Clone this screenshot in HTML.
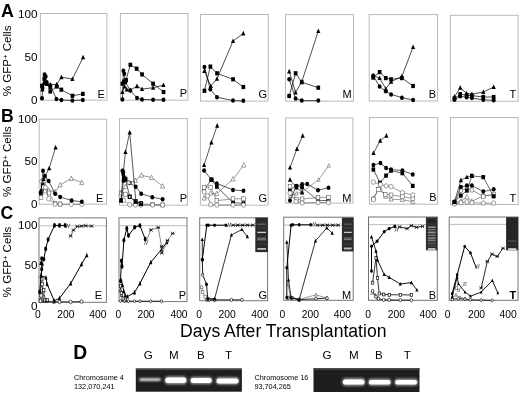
<!DOCTYPE html>
<html><head><meta charset="utf-8"><title>Figure</title>
<style>
html,body{margin:0;padding:0;background:#fff;}
body{width:520px;height:393px;overflow:hidden;font-family:"Liberation Sans",sans-serif;}
svg{display:block;will-change:transform;transform:translateZ(0);filter:blur(0.4px);}
text{font-family:"Liberation Sans",sans-serif;fill:#000;}
</style></head><body>
<svg width="520" height="393" viewBox="0 0 520 393">
<defs>
<filter id="bl" x="-20%" y="-80%" width="140%" height="260%"><feGaussianBlur stdDeviation="1.0 0.9"/></filter>
<filter id="bl2" x="-20%" y="-80%" width="140%" height="260%"><feGaussianBlur stdDeviation="0.6 0.5"/></filter>
</defs>
<rect width="520" height="393" fill="#fff"/>

<rect x="40.4" y="13.5" width="66.5" height="86.7" fill="none" stroke="#b9b9b9" stroke-width="1"/>
<rect x="120.4" y="13.5" width="67.5" height="86.7" fill="none" stroke="#b9b9b9" stroke-width="1"/>
<rect x="200.5" y="14.5" width="67.69999999999999" height="86.6" fill="none" stroke="#b9b9b9" stroke-width="1"/>
<rect x="285.5" y="14.6" width="68.0" height="86.60000000000001" fill="none" stroke="#b9b9b9" stroke-width="1"/>
<rect x="369.2" y="14.6" width="68.30000000000001" height="86.4" fill="none" stroke="#b9b9b9" stroke-width="1"/>
<rect x="450.4" y="15.3" width="67.70000000000005" height="85.95" fill="none" stroke="#b9b9b9" stroke-width="1"/>
<rect x="39.2" y="119.2" width="67.39999999999999" height="84.99999999999999" fill="none" stroke="#b9b9b9" stroke-width="1"/>
<rect x="119.5" y="118.6" width="67.9" height="86.6" fill="none" stroke="#b9b9b9" stroke-width="1"/>
<rect x="200.4" y="118.3" width="67.70000000000002" height="86.89999999999999" fill="none" stroke="#b9b9b9" stroke-width="1"/>
<rect x="285.6" y="118.0" width="67.29999999999995" height="85.1" fill="none" stroke="#b9b9b9" stroke-width="1"/>
<rect x="369.4" y="117.5" width="68.20000000000005" height="86.69999999999999" fill="none" stroke="#b9b9b9" stroke-width="1"/>
<rect x="450.5" y="117.5" width="67.60000000000002" height="87.0" fill="none" stroke="#b9b9b9" stroke-width="1"/>
<line x1="39" y1="225.8" x2="106.4" y2="225.8" stroke="#bdbdbd" stroke-width="1"/>
<rect x="39" y="217.9" width="67.4" height="84.4" fill="none" stroke="#787878" stroke-width="1.0"/>
<line x1="119" y1="225.7" x2="187" y2="225.7" stroke="#bdbdbd" stroke-width="1"/>
<rect x="119" y="217.8" width="68.0" height="83.8" fill="none" stroke="#787878" stroke-width="1.0"/>
<line x1="199.7" y1="225.3" x2="267.6" y2="225.3" stroke="#bdbdbd" stroke-width="1"/>
<rect x="199.7" y="217.8" width="67.9" height="82.9" fill="none" stroke="#787878" stroke-width="1.0"/>
<line x1="283.7" y1="225.1" x2="353.2" y2="225.1" stroke="#bdbdbd" stroke-width="1"/>
<rect x="283.7" y="217.2" width="69.5" height="83.1" fill="none" stroke="#747474" stroke-width="1.0"/>
<line x1="368.5" y1="224.6" x2="437.3" y2="224.6" stroke="#bdbdbd" stroke-width="1"/>
<rect x="368.5" y="217.0" width="68.8" height="83.3" fill="none" stroke="#707070" stroke-width="1.0"/>
<line x1="449.2" y1="224.4" x2="518.0" y2="224.4" stroke="#bdbdbd" stroke-width="1"/>
<rect x="449.2" y="217.0" width="68.8" height="83.3" fill="none" stroke="#747474" stroke-width="1.0"/>
<rect x="255.3" y="217.6" width="12.5" height="34.5" fill="#2b2b2b"/><rect x="257.3" y="223.60" width="8.7" height="1.0" fill="#777" filter="url(#bl2)"/><rect x="257.3" y="227.60" width="8.7" height="0.8" fill="#484848" filter="url(#bl2)"/><rect x="257.3" y="231.75" width="8.7" height="1.3" fill="#cfcfcf" filter="url(#bl2)"/><rect x="257.3" y="237.60" width="8.7" height="1.0" fill="#8a8a8a" filter="url(#bl2)"/><rect x="257.3" y="239.30" width="8.7" height="1.0" fill="#8a8a8a" filter="url(#bl2)"/><rect x="257.3" y="243.60" width="8.7" height="0.8" fill="#484848" filter="url(#bl2)"/><rect x="257.3" y="248.00" width="8.7" height="1.8" fill="#bdbdbd" filter="url(#bl2)"/><rect x="341.9" y="217.6" width="11.600000000000023" height="33.80000000000001" fill="#2b2b2b"/><rect x="343.9" y="223.60" width="7.8" height="1.0" fill="#6a6a6a" filter="url(#bl2)"/><rect x="343.9" y="227.50" width="7.8" height="0.8" fill="#505050" filter="url(#bl2)"/><rect x="343.9" y="231.75" width="7.8" height="1.3" fill="#c8c8c8" filter="url(#bl2)"/><rect x="343.9" y="237.60" width="7.8" height="1.0" fill="#858585" filter="url(#bl2)"/><rect x="343.9" y="239.10" width="7.8" height="1.0" fill="#808080" filter="url(#bl2)"/><rect x="343.9" y="243.60" width="7.8" height="0.8" fill="#484848" filter="url(#bl2)"/><rect x="343.9" y="247.55" width="7.8" height="1.9" fill="#b8b8b8" filter="url(#bl2)"/><rect x="425.9" y="217.3" width="11.400000000000034" height="33.0" fill="#2e2e2e"/><rect x="427.9" y="219.90" width="7.6" height="2.2" fill="#202020" filter="url(#bl2)"/><rect x="427.9" y="226.35" width="7.6" height="1.7" fill="#8c8c8c" filter="url(#bl2)"/><rect x="427.9" y="229.00" width="7.6" height="1.4" fill="#727272" filter="url(#bl2)"/><rect x="427.9" y="231.60" width="7.6" height="1.6" fill="#9a9a9a" filter="url(#bl2)"/><rect x="427.9" y="234.60" width="7.6" height="1.4" fill="#7c7c7c" filter="url(#bl2)"/><rect x="427.9" y="237.15" width="7.6" height="1.7" fill="#848484" filter="url(#bl2)"/><rect x="427.9" y="239.55" width="7.6" height="1.7" fill="#7a7a7a" filter="url(#bl2)"/><rect x="427.9" y="242.80" width="7.6" height="1.2" fill="#5a5a5a" filter="url(#bl2)"/><rect x="427.9" y="245.30" width="7.6" height="1.0" fill="#4c4c4c" filter="url(#bl2)"/><rect x="427.9" y="248.15" width="7.6" height="1.7" fill="#d4d4d4" filter="url(#bl2)"/><rect x="506.1" y="217.2" width="12.100000000000023" height="33.10000000000002" fill="#262626"/><rect x="508.1" y="240.50" width="8.3" height="1.0" fill="#5c5c5c" filter="url(#bl2)"/><rect x="508.1" y="244.60" width="8.3" height="0.8" fill="#3a3a3a" filter="url(#bl2)"/><rect x="508.1" y="248.30" width="8.3" height="1.6" fill="#f0f0f0" filter="url(#bl2)"/>
<g id="pAE">
<path d="M42.4 89.4L44.6 82.5L46.7 84.0L50.3 84.6L56.7 84.4L61.4 77.2L72.4 79.1L83.1 57.3" fill="none" stroke="#000" stroke-width="0.7" /><g fill="#000"><path d="M40.3 91.4L44.5 91.4L42.4 86.8Z"/><path d="M42.5 84.5L46.7 84.5L44.6 79.9Z"/><path d="M44.6 86.0L48.8 86.0L46.7 81.4Z"/><path d="M48.2 86.6L52.4 86.6L50.3 82.0Z"/><path d="M54.6 86.4L58.8 86.4L56.7 81.8Z"/><path d="M59.3 79.2L63.5 79.2L61.4 74.6Z"/><path d="M70.3 81.1L74.5 81.1L72.4 76.5Z"/><path d="M81.0 59.3L85.2 59.3L83.1 54.7Z"/></g>
<path d="M42.0 85.8L44.3 78.7L46.0 83.0L50.3 87.2L50.3 91.5L56.7 86.5L61.4 89.7L72.4 95.8L82.8 93.9" fill="none" stroke="#000" stroke-width="0.7" /><g fill="#000"><rect x="40.1" y="83.7" width="3.7" height="4.2"/><rect x="42.4" y="76.6" width="3.7" height="4.2"/><rect x="44.1" y="80.9" width="3.7" height="4.2"/><rect x="48.4" y="85.1" width="3.7" height="4.2"/><rect x="48.4" y="89.4" width="3.7" height="4.2"/><rect x="54.9" y="84.4" width="3.7" height="4.2"/><rect x="59.5" y="87.6" width="3.7" height="4.2"/><rect x="70.6" y="93.7" width="3.7" height="4.2"/><rect x="81.0" y="91.8" width="3.7" height="4.2"/></g>
<path d="M42.0 98.2L42.6 88.0L44.6 74.4L45.7 76.5L46.7 82.2L50.3 85.4L56.4 98.9L61.4 100.0L72.4 100.5L82.8 100.0" fill="none" stroke="#000" stroke-width="0.7" /><g fill="#000"><ellipse cx="42.0" cy="98.2" rx="1.95" ry="2.25"/><ellipse cx="42.6" cy="88.0" rx="1.95" ry="2.25"/><ellipse cx="44.6" cy="74.4" rx="1.95" ry="2.25"/><ellipse cx="45.7" cy="76.5" rx="1.95" ry="2.25"/><ellipse cx="46.7" cy="82.2" rx="1.95" ry="2.25"/><ellipse cx="50.3" cy="85.4" rx="1.95" ry="2.25"/><ellipse cx="56.4" cy="98.9" rx="1.95" ry="2.25"/><ellipse cx="61.4" cy="100.0" rx="1.95" ry="2.25"/><ellipse cx="72.4" cy="100.5" rx="1.95" ry="2.25"/><ellipse cx="82.8" cy="100.0" rx="1.95" ry="2.25"/></g>
</g>
<g id="pAP">
<path d="M122.4 92.0L124.6 86.5L126.7 89.4L130.3 90.1L137.0 86.2L142.0 89.1L153.1 87.7L163.5 85.1" fill="none" stroke="#000" stroke-width="0.7" /><g fill="#000"><path d="M120.3 94.0L124.5 94.0L122.4 89.4Z"/><path d="M122.5 88.5L126.7 88.5L124.6 83.9Z"/><path d="M124.6 91.4L128.8 91.4L126.7 86.8Z"/><path d="M128.2 92.1L132.4 92.1L130.3 87.5Z"/><path d="M134.9 88.2L139.1 88.2L137.0 83.6Z"/><path d="M139.9 91.1L144.1 91.1L142.0 86.5Z"/><path d="M151.0 89.7L155.2 89.7L153.1 85.1Z"/><path d="M161.4 87.1L165.6 87.1L163.5 82.5Z"/></g>
<path d="M122.4 83.7L123.8 81.5L126.0 80.1L130.3 64.8L136.7 68.7L142.0 74.4L153.1 83.7L163.5 92.0" fill="none" stroke="#000" stroke-width="0.7" /><g fill="#000"><rect x="120.6" y="81.6" width="3.7" height="4.2"/><rect x="122.0" y="79.4" width="3.7" height="4.2"/><rect x="124.2" y="78.0" width="3.7" height="4.2"/><rect x="128.5" y="62.7" width="3.7" height="4.2"/><rect x="134.8" y="66.6" width="3.7" height="4.2"/><rect x="140.2" y="72.3" width="3.7" height="4.2"/><rect x="151.2" y="81.6" width="3.7" height="4.2"/><rect x="161.7" y="89.9" width="3.7" height="4.2"/></g>
<path d="M122.4 99.4L123.4 70.8L124.3 73.7L125.3 82.2L130.3 90.5L137.0 98.0L142.0 99.4L153.1 99.8L163.5 99.8" fill="none" stroke="#000" stroke-width="0.7" /><g fill="#000"><ellipse cx="122.4" cy="99.4" rx="1.95" ry="2.25"/><ellipse cx="123.4" cy="70.8" rx="1.95" ry="2.25"/><ellipse cx="124.3" cy="73.7" rx="1.95" ry="2.25"/><ellipse cx="125.3" cy="82.2" rx="1.95" ry="2.25"/><ellipse cx="130.3" cy="90.5" rx="1.95" ry="2.25"/><ellipse cx="137.0" cy="98.0" rx="1.95" ry="2.25"/><ellipse cx="142.0" cy="99.4" rx="1.95" ry="2.25"/><ellipse cx="153.1" cy="99.8" rx="1.95" ry="2.25"/><ellipse cx="163.5" cy="99.8" rx="1.95" ry="2.25"/></g>
</g>
<g id="pAG">
<path d="M204.4 70.9L210.8 86.0L217.0 78.8L233.0 41.1L243.3 33.4" fill="none" stroke="#000" stroke-width="0.7" /><g fill="#000"><path d="M202.3 72.9L206.5 72.9L204.4 68.3Z"/><path d="M208.7 88.0L212.9 88.0L210.8 83.4Z"/><path d="M214.9 80.8L219.1 80.8L217.0 76.2Z"/><path d="M230.9 43.1L235.1 43.1L233.0 38.5Z"/><path d="M241.2 35.4L245.4 35.4L243.3 30.8Z"/></g>
<path d="M204.4 90.8L210.3 66.6L217.0 73.3L233.0 79.3L243.3 87.0" fill="none" stroke="#000" stroke-width="0.7" /><g fill="#000"><rect x="202.6" y="88.7" width="3.7" height="4.2"/><rect x="208.5" y="64.5" width="3.7" height="4.2"/><rect x="215.2" y="71.2" width="3.7" height="4.2"/><rect x="231.2" y="77.2" width="3.7" height="4.2"/><rect x="241.5" y="84.9" width="3.7" height="4.2"/></g>
<path d="M204.4 66.9L210.3 89.3L217.0 97.2L233.0 100.6L243.3 100.8" fill="none" stroke="#000" stroke-width="0.7" /><g fill="#000"><ellipse cx="204.4" cy="66.9" rx="1.95" ry="2.25"/><ellipse cx="210.3" cy="89.3" rx="1.95" ry="2.25"/><ellipse cx="217.0" cy="97.2" rx="1.95" ry="2.25"/><ellipse cx="233.0" cy="100.6" rx="1.95" ry="2.25"/><ellipse cx="243.3" cy="100.8" rx="1.95" ry="2.25"/></g>
</g>
<g id="pAM">
<path d="M289.2 71.4L295.6 92.5L301.8 81.7L318.3 31.0" fill="none" stroke="#000" stroke-width="0.7" /><g fill="#000"><path d="M287.1 73.4L291.3 73.4L289.2 68.8Z"/><path d="M293.5 94.5L297.7 94.5L295.6 89.9Z"/><path d="M299.7 83.7L303.9 83.7L301.8 79.1Z"/><path d="M316.2 33.0L320.4 33.0L318.3 28.4Z"/></g>
<path d="M289.2 96.0L295.6 73.3L301.8 82.2L318.3 87.7" fill="none" stroke="#000" stroke-width="0.7" /><g fill="#000"><rect x="287.3" y="93.9" width="3.7" height="4.2"/><rect x="293.8" y="71.2" width="3.7" height="4.2"/><rect x="299.9" y="80.1" width="3.7" height="4.2"/><rect x="316.4" y="85.6" width="3.7" height="4.2"/></g>
<path d="M289.2 79.3L295.6 98.4L301.8 100.6L318.3 100.6" fill="none" stroke="#000" stroke-width="0.7" /><g fill="#000"><ellipse cx="289.2" cy="79.3" rx="1.95" ry="2.25"/><ellipse cx="295.6" cy="98.4" rx="1.95" ry="2.25"/><ellipse cx="301.8" cy="100.6" rx="1.95" ry="2.25"/><ellipse cx="318.3" cy="100.6" rx="1.95" ry="2.25"/></g>
</g>
<g id="pAB">
<path d="M373.2 75.7L379.6 78.1L385.8 88.9L391.1 81.7L401.9 76.4L413.1 47.0" fill="none" stroke="#000" stroke-width="0.7" /><g fill="#000"><path d="M371.1 77.7L375.3 77.7L373.2 73.1Z"/><path d="M377.5 80.1L381.7 80.1L379.6 75.5Z"/><path d="M383.7 90.9L387.9 90.9L385.8 86.3Z"/><path d="M389.0 83.7L393.2 83.7L391.1 79.1Z"/><path d="M399.8 78.4L404.0 78.4L401.9 73.8Z"/><path d="M411.0 49.0L415.2 49.0L413.1 44.4Z"/></g>
<path d="M373.2 77.6L379.6 72.1L385.8 78.1L391.1 79.3L401.9 78.1L413.1 86.0" fill="none" stroke="#000" stroke-width="0.7" /><g fill="#000"><rect x="371.3" y="75.5" width="3.7" height="4.2"/><rect x="377.8" y="70.0" width="3.7" height="4.2"/><rect x="383.9" y="76.0" width="3.7" height="4.2"/><rect x="389.2" y="77.2" width="3.7" height="4.2"/><rect x="400.0" y="76.0" width="3.7" height="4.2"/><rect x="411.2" y="83.9" width="3.7" height="4.2"/></g>
<path d="M373.2 75.7L379.6 86.5L385.8 91.3L391.1 94.4L401.9 97.7L413.1 99.9" fill="none" stroke="#000" stroke-width="0.7" /><g fill="#000"><ellipse cx="373.2" cy="75.7" rx="1.95" ry="2.25"/><ellipse cx="379.6" cy="86.5" rx="1.95" ry="2.25"/><ellipse cx="385.8" cy="91.3" rx="1.95" ry="2.25"/><ellipse cx="391.1" cy="94.4" rx="1.95" ry="2.25"/><ellipse cx="401.9" cy="97.7" rx="1.95" ry="2.25"/><ellipse cx="413.1" cy="99.9" rx="1.95" ry="2.25"/></g>
</g>
<g id="pAT">
<path d="M454.5 96.7L460.2 87.7L466.6 93.4L471.9 94.2L483.3 92.0L493.7 87.0" fill="none" stroke="#000" stroke-width="0.7" /><g fill="#000"><path d="M452.4 98.7L456.6 98.7L454.5 94.1Z"/><path d="M458.1 89.7L462.3 89.7L460.2 85.1Z"/><path d="M464.5 95.4L468.7 95.4L466.6 90.8Z"/><path d="M469.8 96.2L474.0 96.2L471.9 91.6Z"/><path d="M481.2 94.0L485.4 94.0L483.3 89.4Z"/><path d="M491.6 89.0L495.8 89.0L493.7 84.4Z"/></g>
<path d="M454.5 98.4L460.2 94.2L466.6 95.3L471.9 95.6L483.3 97.0L493.7 97.0" fill="none" stroke="#000" stroke-width="0.7" /><g fill="#000"><rect x="452.6" y="96.3" width="3.7" height="4.2"/><rect x="458.3" y="92.1" width="3.7" height="4.2"/><rect x="464.8" y="93.2" width="3.7" height="4.2"/><rect x="470.0" y="93.5" width="3.7" height="4.2"/><rect x="481.4" y="94.9" width="3.7" height="4.2"/><rect x="491.8" y="94.9" width="3.7" height="4.2"/></g>
<path d="M454.5 99.8L460.2 96.3L466.6 97.3L471.9 98.1L483.3 99.8L493.7 100.3" fill="none" stroke="#000" stroke-width="0.7" /><g fill="#000"><ellipse cx="454.5" cy="99.8" rx="1.95" ry="2.25"/><ellipse cx="460.2" cy="96.3" rx="1.95" ry="2.25"/><ellipse cx="466.6" cy="97.3" rx="1.95" ry="2.25"/><ellipse cx="471.9" cy="98.1" rx="1.95" ry="2.25"/><ellipse cx="483.3" cy="99.8" rx="1.95" ry="2.25"/><ellipse cx="493.7" cy="100.3" rx="1.95" ry="2.25"/></g>
</g>
<g id="pBE">
<path d="M40.9 193.5L42.6 184.5L44.3 189.0" fill="none" stroke="#000" stroke-width="0.6" /><g fill="#000"><rect x="39.0" y="191.4" width="3.7" height="4.2"/><rect x="40.8" y="182.4" width="3.7" height="4.2"/><rect x="42.4" y="186.9" width="3.7" height="4.2"/></g>
<path d="M41.3 192.2L44.6 186.5L48.6 190.3L55.1 191.8L60.2 185.0L71.3 178.5L81.8 182.7" fill="none" stroke="#555" stroke-width="0.6" /><g fill="#fff" stroke="#505050" stroke-width="0.55"><path d="M39.2 194.1L43.4 194.1L41.3 189.7Z"/><path d="M42.5 188.4L46.7 188.4L44.6 184.0Z"/><path d="M46.5 192.2L50.7 192.2L48.6 187.8Z"/><path d="M53.0 193.7L57.2 193.7L55.1 189.3Z"/><path d="M58.1 186.9L62.3 186.9L60.2 182.5Z"/><path d="M69.2 180.4L73.4 180.4L71.3 176.0Z"/><path d="M79.7 184.6L83.9 184.6L81.8 180.2Z"/></g>
<path d="M41.0 197.5L43.5 187.0L45.6 191.0L49.0 193.0L55.1 203.5L60.2 204.0" fill="none" stroke="#555" stroke-width="0.6" /><g fill="#fff" stroke="#505050" stroke-width="0.55"><rect x="39.2" y="195.5" width="3.6" height="4.0"/><rect x="41.7" y="185.0" width="3.6" height="4.0"/><rect x="43.8" y="189.0" width="3.6" height="4.0"/><rect x="47.2" y="191.0" width="3.6" height="4.0"/><rect x="53.3" y="201.5" width="3.6" height="4.0"/><rect x="58.4" y="202.0" width="3.6" height="4.0"/></g>
<path d="M41.7 181.4L44.9 180.4L45.5 187.4L48.7 198.8L55.1 204.2L60.2 204.3L71.3 204.3L81.8 204.3" fill="none" stroke="#555" stroke-width="0.6" /><g fill="#fff" stroke="#505050" stroke-width="0.55"><ellipse cx="41.7" cy="181.4" rx="2.07" ry="2.25"/><ellipse cx="44.9" cy="180.4" rx="2.07" ry="2.25"/><ellipse cx="45.5" cy="187.4" rx="2.07" ry="2.25"/><ellipse cx="48.7" cy="198.8" rx="2.07" ry="2.25"/><ellipse cx="55.1" cy="204.2" rx="2.07" ry="2.25"/><ellipse cx="60.2" cy="204.3" rx="2.07" ry="2.25"/><ellipse cx="71.3" cy="204.3" rx="2.07" ry="2.25"/><ellipse cx="81.8" cy="204.3" rx="2.07" ry="2.25"/></g>
<path d="M40.8 192.4L43.0 170.8L44.9 175.9L48.7 181.0L55.1 193.7L60.2 196.9L71.6 200.5L81.8 201.8" fill="none" stroke="#000" stroke-width="0.65" /><g fill="#000"><ellipse cx="40.8" cy="192.4" rx="1.95" ry="2.25"/><ellipse cx="43.0" cy="170.8" rx="1.95" ry="2.25"/><ellipse cx="44.9" cy="175.9" rx="1.95" ry="2.25"/><ellipse cx="48.7" cy="181.0" rx="1.95" ry="2.25"/><ellipse cx="55.1" cy="193.7" rx="1.95" ry="2.25"/><ellipse cx="60.2" cy="196.9" rx="1.95" ry="2.25"/><ellipse cx="71.6" cy="200.5" rx="1.95" ry="2.25"/><ellipse cx="81.8" cy="201.8" rx="1.95" ry="2.25"/></g>
<path d="M40.7 191.0L43.6 179.0L49.2 168.3L55.6 147.4" fill="none" stroke="#000" stroke-width="0.65" /><g fill="#000"><path d="M38.6 193.0L42.8 193.0L40.7 188.4Z"/><path d="M41.5 181.0L45.7 181.0L43.6 176.4Z"/><path d="M47.1 170.3L51.3 170.3L49.2 165.7Z"/><path d="M53.5 149.4L57.7 149.4L55.6 144.8Z"/></g>
</g>
<g id="pBP">
<path d="M121.0 193.0L125.5 194.2L129.7 196.7L135.4 201.7L140.9 203.7L152.6 204.7L162.6 204.9" fill="none" stroke="#555" stroke-width="0.6" /><g fill="#fff" stroke="#505050" stroke-width="0.55"><rect x="119.2" y="191.0" width="3.6" height="4.0"/><rect x="123.7" y="192.2" width="3.6" height="4.0"/><rect x="127.9" y="194.7" width="3.6" height="4.0"/><rect x="133.6" y="199.7" width="3.6" height="4.0"/><rect x="139.1" y="201.7" width="3.6" height="4.0"/><rect x="150.8" y="202.7" width="3.6" height="4.0"/><rect x="160.8" y="202.9" width="3.6" height="4.0"/></g>
<path d="M121.0 196.7L123.5 200.4L129.7 204.7L135.4 205.0L140.9 205.0L152.6 205.0L162.6 205.0" fill="none" stroke="#555" stroke-width="0.6" /><g fill="#fff" stroke="#505050" stroke-width="0.55"><ellipse cx="121.0" cy="196.7" rx="2.07" ry="2.25"/><ellipse cx="123.5" cy="200.4" rx="2.07" ry="2.25"/><ellipse cx="129.7" cy="204.7" rx="2.07" ry="2.25"/><ellipse cx="135.4" cy="205.0" rx="2.07" ry="2.25"/><ellipse cx="140.9" cy="205.0" rx="2.07" ry="2.25"/><ellipse cx="152.6" cy="205.0" rx="2.07" ry="2.25"/><ellipse cx="162.6" cy="205.0" rx="2.07" ry="2.25"/></g>
<path d="M121.0 200.4L123.5 180.5L125.5 178.8" fill="none" stroke="#000" stroke-width="0.6" /><g fill="#000"><rect x="119.2" y="198.3" width="3.7" height="4.2"/><rect x="121.7" y="178.4" width="3.7" height="4.2"/><rect x="123.7" y="176.7" width="3.7" height="4.2"/></g>
<path d="M125.5 178.8L129.7 196.9L135.7 201.3L141.2 203.2" fill="none" stroke="#000" stroke-width="0.6" />
<g fill="#fff" stroke="#000" stroke-width="1.1"><rect x="128.4" y="195.4" width="2.6" height="3.0"/><rect x="134.4" y="199.8" width="2.6" height="3.0"/><rect x="139.9" y="201.7" width="2.6" height="3.0"/></g>
<path d="M122.4 170.8L123.2 174.0L123.8 177.0L125.5 179.7L129.7 183.0L135.7 186.7L141.2 193.7L152.3 197.2L162.6 199.2" fill="none" stroke="#000" stroke-width="0.65" /><g fill="#000"><ellipse cx="122.4" cy="170.8" rx="1.95" ry="2.25"/><ellipse cx="123.2" cy="174.0" rx="1.95" ry="2.25"/><ellipse cx="123.8" cy="177.0" rx="1.95" ry="2.25"/><ellipse cx="125.5" cy="179.7" rx="1.95" ry="2.25"/><ellipse cx="129.7" cy="183.0" rx="1.95" ry="2.25"/><ellipse cx="135.7" cy="186.7" rx="1.95" ry="2.25"/><ellipse cx="141.2" cy="193.7" rx="1.95" ry="2.25"/><ellipse cx="152.3" cy="197.2" rx="1.95" ry="2.25"/><ellipse cx="162.6" cy="199.2" rx="1.95" ry="2.25"/></g>
<path d="M121.0 193.0L125.5 186.7L128.9 182.3L135.4 180.5L141.4 175.3L151.6 177.6L162.6 186.2" fill="none" stroke="#555" stroke-width="0.6" /><g fill="#fff" stroke="#505050" stroke-width="0.55"><path d="M118.9 194.9L123.1 194.9L121.0 190.5Z"/><path d="M123.4 188.6L127.6 188.6L125.5 184.2Z"/><path d="M126.8 184.2L131.0 184.2L128.9 179.8Z"/><path d="M133.3 182.4L137.5 182.4L135.4 178.0Z"/><path d="M139.3 177.2L143.5 177.2L141.4 172.8Z"/><path d="M149.5 179.5L153.7 179.5L151.6 175.1Z"/><path d="M160.5 188.1L164.7 188.1L162.6 183.7Z"/></g>
<path d="M121.0 200.4L123.5 170.5L125.5 151.9L129.7 132.4L135.9 201.7L140.9 204.0" fill="none" stroke="#000" stroke-width="0.65" /><g fill="#000"><path d="M118.9 202.4L123.1 202.4L121.0 197.8Z"/><path d="M121.4 172.5L125.6 172.5L123.5 167.9Z"/><path d="M123.4 153.9L127.6 153.9L125.5 149.3Z"/><path d="M127.6 134.4L131.8 134.4L129.7 129.8Z"/><path d="M133.8 203.7L138.0 203.7L135.9 199.1Z"/><path d="M138.8 206.0L143.0 206.0L140.9 201.4Z"/></g>
</g>
<g id="pBG">
<path d="M204.1 189.9L211.4 179.7L216.8 186.7L233.0 202.6L243.5 203.3" fill="none" stroke="#000" stroke-width="0.6" /><g fill="#000"><rect x="202.2" y="187.8" width="3.7" height="4.2"/><rect x="209.6" y="177.6" width="3.7" height="4.2"/><rect x="215.0" y="184.6" width="3.7" height="4.2"/><rect x="231.2" y="200.5" width="3.7" height="4.2"/><rect x="241.7" y="201.2" width="3.7" height="4.2"/></g>
<path d="M204.1 198.2L210.7 193.1L216.8 193.7L233.0 179.1L243.8 165.1" fill="none" stroke="#555" stroke-width="0.6" /><g fill="#fff" stroke="#505050" stroke-width="0.55"><path d="M202.0 200.1L206.2 200.1L204.1 195.7Z"/><path d="M208.6 195.0L212.8 195.0L210.7 190.6Z"/><path d="M214.7 195.6L218.9 195.6L216.8 191.2Z"/><path d="M230.9 181.0L235.1 181.0L233.0 176.6Z"/><path d="M241.7 167.0L245.9 167.0L243.8 162.6Z"/></g>
<path d="M204.1 187.4L210.7 187.4L216.8 200.7L233.0 198.8L243.5 198.8" fill="none" stroke="#555" stroke-width="0.6" /><g fill="#fff" stroke="#505050" stroke-width="0.55"><rect x="202.3" y="185.4" width="3.6" height="4.0"/><rect x="208.9" y="185.4" width="3.6" height="4.0"/><rect x="215.0" y="198.7" width="3.6" height="4.0"/><rect x="231.2" y="196.8" width="3.6" height="4.0"/><rect x="241.7" y="196.8" width="3.6" height="4.0"/></g>
<path d="M204.1 191.8L207.5 196.0L210.7 204.5L216.8 205.0L233.0 205.0L243.5 205.0" fill="none" stroke="#555" stroke-width="0.6" /><g fill="#fff" stroke="#505050" stroke-width="0.55"><ellipse cx="204.1" cy="191.8" rx="2.07" ry="2.25"/><ellipse cx="207.5" cy="196.0" rx="2.07" ry="2.25"/><ellipse cx="210.7" cy="204.5" rx="2.07" ry="2.25"/><ellipse cx="216.8" cy="205.0" rx="2.07" ry="2.25"/><ellipse cx="233.0" cy="205.0" rx="2.07" ry="2.25"/><ellipse cx="243.5" cy="205.0" rx="2.07" ry="2.25"/></g>
<path d="M204.1 170.4L211.4 179.7L216.8 183.5L233.0 189.9L243.5 190.8" fill="none" stroke="#000" stroke-width="0.65" /><g fill="#000"><ellipse cx="204.1" cy="170.4" rx="1.95" ry="2.25"/><ellipse cx="211.4" cy="179.7" rx="1.95" ry="2.25"/><ellipse cx="216.8" cy="183.5" rx="1.95" ry="2.25"/><ellipse cx="233.0" cy="189.9" rx="1.95" ry="2.25"/><ellipse cx="243.5" cy="190.8" rx="1.95" ry="2.25"/></g>
<path d="M211.4 179.7" fill="none" stroke="#000" stroke-width="0.6" /><g fill="#000"><rect x="209.6" y="177.6" width="3.7" height="4.2"/></g>
<path d="M204.1 165.1L211.4 142.4L217.2 125.7" fill="none" stroke="#000" stroke-width="0.65" /><g fill="#000"><path d="M202.0 167.1L206.2 167.1L204.1 162.5Z"/><path d="M209.3 144.4L213.5 144.4L211.4 139.8Z"/><path d="M215.1 127.7L219.3 127.7L217.2 123.1Z"/></g>
</g>
<g id="pBM">
<path d="M290.0 189.5L296.4 186.1L302.1 187.4L318.0 200.4L328.5 200.6" fill="none" stroke="#000" stroke-width="0.6" /><g fill="#000"><rect x="288.1" y="187.4" width="3.7" height="4.2"/><rect x="294.5" y="184.0" width="3.7" height="4.2"/><rect x="300.2" y="185.3" width="3.7" height="4.2"/><rect x="316.1" y="198.3" width="3.7" height="4.2"/><rect x="326.6" y="198.5" width="3.7" height="4.2"/></g>
<path d="M290.0 196.0L296.4 193.5L302.1 191.9L318.6 179.7L328.8 165.7" fill="none" stroke="#666" stroke-width="0.6" /><g fill="#fff" stroke="#505050" stroke-width="0.55"><path d="M288.4 197.5L291.6 197.5L290.0 194.0Z"/><path d="M294.8 195.0L298.0 195.0L296.4 191.5Z"/><path d="M300.5 193.4L303.7 193.4L302.1 189.9Z"/><path d="M317.0 181.2L320.2 181.2L318.6 177.7Z"/><path d="M327.2 167.2L330.4 167.2L328.8 163.7Z"/></g>
<path d="M290.0 186.7L296.4 199.5L302.1 199.0L318.0 197.5L328.5 197.2" fill="none" stroke="#555" stroke-width="0.6" /><g fill="#fff" stroke="#505050" stroke-width="0.55"><rect x="288.2" y="184.7" width="3.6" height="4.0"/><rect x="294.6" y="197.5" width="3.6" height="4.0"/><rect x="300.3" y="197.0" width="3.6" height="4.0"/><rect x="316.2" y="195.5" width="3.6" height="4.0"/><rect x="326.7" y="195.2" width="3.6" height="4.0"/></g>
<path d="M290.0 193.1L296.0 201.5L302.1 203.0L318.0 202.6L328.5 202.6" fill="none" stroke="#555" stroke-width="0.6" /><g fill="#fff" stroke="#505050" stroke-width="0.55"><ellipse cx="290.0" cy="193.1" rx="2.07" ry="2.25"/><ellipse cx="296.0" cy="201.5" rx="2.07" ry="2.25"/><ellipse cx="302.1" cy="203.0" rx="2.07" ry="2.25"/><ellipse cx="318.0" cy="202.6" rx="2.07" ry="2.25"/><ellipse cx="328.5" cy="202.6" rx="2.07" ry="2.25"/></g>
<path d="M290.0 179.7L296.4 187.5L302.1 192.4" fill="none" stroke="#000" stroke-width="0.6" /><g fill="#000"><path d="M287.9 181.7L292.1 181.7L290.0 177.1Z"/><path d="M294.3 189.5L298.5 189.5L296.4 184.9Z"/><path d="M300.0 194.4L304.2 194.4L302.1 189.8Z"/></g>
<path d="M290.0 200.5L296.4 186.1L302.1 184.2L307.2 183.9L318.0 190.3L328.5 187.7" fill="none" stroke="#000" stroke-width="0.65" /><g fill="#000"><ellipse cx="290.0" cy="200.5" rx="1.95" ry="2.25"/><ellipse cx="296.4" cy="186.1" rx="1.95" ry="2.25"/><ellipse cx="302.1" cy="184.2" rx="1.95" ry="2.25"/><ellipse cx="307.2" cy="183.9" rx="1.95" ry="2.25"/><ellipse cx="318.0" cy="190.3" rx="1.95" ry="2.25"/><ellipse cx="328.5" cy="187.7" rx="1.95" ry="2.25"/></g>
<path d="M290.0 167.6L297.0 148.9L302.7 135.7" fill="none" stroke="#000" stroke-width="0.65" /><g fill="#000"><path d="M287.9 169.6L292.1 169.6L290.0 165.0Z"/><path d="M294.9 150.9L299.1 150.9L297.0 146.3Z"/><path d="M300.6 137.7L304.8 137.7L302.7 133.1Z"/></g>
</g>
<g id="pBB">
<path d="M373.4 169.5L380.0 182.8L386.1 175.6L391.1 170.6L402.4 173.2L412.8 185.9" fill="none" stroke="#000" stroke-width="0.65" /><g fill="#000"><rect x="371.5" y="167.4" width="3.7" height="4.2"/><rect x="378.1" y="180.7" width="3.7" height="4.2"/><rect x="384.2" y="173.5" width="3.7" height="4.2"/><rect x="389.2" y="168.5" width="3.7" height="4.2"/><rect x="400.5" y="171.1" width="3.7" height="4.2"/><rect x="410.9" y="183.8" width="3.7" height="4.2"/></g>
<path d="M373.4 198.2L379.6 187.0L385.6 196.5L391.1 199.2L402.4 199.8L412.8 201.6" fill="none" stroke="#555" stroke-width="0.6" /><g fill="#fff" stroke="#505050" stroke-width="0.55"><path d="M371.4 200.0L375.4 200.0L373.4 195.8Z"/><path d="M377.6 188.8L381.6 188.8L379.6 184.6Z"/><path d="M383.6 198.3L387.6 198.3L385.6 194.1Z"/><path d="M389.1 201.0L393.1 201.0L391.1 196.8Z"/><path d="M400.4 201.6L404.4 201.6L402.4 197.4Z"/><path d="M410.8 203.4L414.8 203.4L412.8 199.2Z"/></g>
<path d="M373.4 199.2L378.5 189.7L385.3 194.3L391.1 195.0L402.4 196.6L412.8 198.5" fill="none" stroke="#555" stroke-width="0.6" /><g fill="#fff" stroke="#505050" stroke-width="0.55"><rect x="371.6" y="197.2" width="3.6" height="4.0"/><rect x="376.7" y="187.7" width="3.6" height="4.0"/><rect x="383.5" y="192.3" width="3.6" height="4.0"/><rect x="389.3" y="193.0" width="3.6" height="4.0"/><rect x="400.6" y="194.6" width="3.6" height="4.0"/><rect x="411.0" y="196.5" width="3.6" height="4.0"/></g>
<path d="M373.4 182.1L380.4 184.4L386.1 185.9L391.1 186.6L402.4 192.7L412.8 195.0" fill="none" stroke="#555" stroke-width="0.6" /><g fill="#fff" stroke="#505050" stroke-width="0.55"><ellipse cx="373.4" cy="182.1" rx="2.07" ry="2.25"/><ellipse cx="380.4" cy="184.4" rx="2.07" ry="2.25"/><ellipse cx="386.1" cy="185.9" rx="2.07" ry="2.25"/><ellipse cx="391.1" cy="186.6" rx="2.07" ry="2.25"/><ellipse cx="402.4" cy="192.7" rx="2.07" ry="2.25"/><ellipse cx="412.8" cy="195.0" rx="2.07" ry="2.25"/></g>
<path d="M373.4 165.0L380.4 163.0L386.1 168.0L391.1 169.5L402.4 170.6L412.8 174.4" fill="none" stroke="#000" stroke-width="0.65" /><g fill="#000"><ellipse cx="373.4" cy="165.0" rx="1.95" ry="2.25"/><ellipse cx="380.4" cy="163.0" rx="1.95" ry="2.25"/><ellipse cx="386.1" cy="168.0" rx="1.95" ry="2.25"/><ellipse cx="391.1" cy="169.5" rx="1.95" ry="2.25"/><ellipse cx="402.4" cy="170.6" rx="1.95" ry="2.25"/><ellipse cx="412.8" cy="174.4" rx="1.95" ry="2.25"/></g>
<path d="M373.5 153.1L380.2 140.7L386.4 135.7" fill="none" stroke="#000" stroke-width="0.65" /><g fill="#000"><path d="M371.4 155.1L375.6 155.1L373.5 150.5Z"/><path d="M378.1 142.7L382.3 142.7L380.2 138.1Z"/><path d="M384.3 137.7L388.5 137.7L386.4 133.1Z"/></g>
</g>
<g id="pBT">
<path d="M454.5 202.5L460.9 201.0L466.9 197.0L471.9 201.3L483.3 195.6L493.7 195.6" fill="none" stroke="#555" stroke-width="0.6" /><g fill="#fff" stroke="#505050" stroke-width="0.55"><path d="M452.4 204.4L456.6 204.4L454.5 200.0Z"/><path d="M458.8 202.9L463.0 202.9L460.9 198.5Z"/><path d="M464.8 198.9L469.0 198.9L466.9 194.5Z"/><path d="M469.8 203.2L474.0 203.2L471.9 198.8Z"/><path d="M481.2 197.5L485.4 197.5L483.3 193.1Z"/><path d="M491.6 197.5L495.8 197.5L493.7 193.1Z"/></g>
<path d="M454.5 203.0L460.9 190.6L466.9 188.5L471.9 190.0L483.3 196.3L493.7 194.2" fill="none" stroke="#555" stroke-width="0.6" /><g fill="#fff" stroke="#505050" stroke-width="0.55"><rect x="452.7" y="201.0" width="3.6" height="4.0"/><rect x="459.1" y="188.6" width="3.6" height="4.0"/><rect x="465.1" y="186.5" width="3.6" height="4.0"/><rect x="470.1" y="188.0" width="3.6" height="4.0"/><rect x="481.5" y="194.3" width="3.6" height="4.0"/><rect x="491.9" y="192.2" width="3.6" height="4.0"/></g>
<path d="M454.5 204.1L460.9 202.7L466.9 202.0L471.9 202.7L483.3 203.1L493.7 203.1" fill="none" stroke="#555" stroke-width="0.6" /><g fill="#fff" stroke="#505050" stroke-width="0.55"><ellipse cx="454.5" cy="204.1" rx="2.07" ry="2.25"/><ellipse cx="460.9" cy="202.7" rx="2.07" ry="2.25"/><ellipse cx="466.9" cy="202.0" rx="2.07" ry="2.25"/><ellipse cx="471.9" cy="202.7" rx="2.07" ry="2.25"/><ellipse cx="483.3" cy="203.1" rx="2.07" ry="2.25"/><ellipse cx="493.7" cy="203.1" rx="2.07" ry="2.25"/></g>
<path d="M454.5 202.0L460.9 187.0L466.9 185.6L471.9 185.6L483.3 191.6L493.7 189.2" fill="none" stroke="#000" stroke-width="0.6" /><g fill="#000"><ellipse cx="454.5" cy="202.0" rx="1.95" ry="2.25"/><ellipse cx="460.9" cy="187.0" rx="1.95" ry="2.25"/><ellipse cx="466.9" cy="185.6" rx="1.95" ry="2.25"/><ellipse cx="471.9" cy="185.6" rx="1.95" ry="2.25"/><ellipse cx="483.3" cy="191.6" rx="1.95" ry="2.25"/><ellipse cx="493.7" cy="189.2" rx="1.95" ry="2.25"/></g>
<path d="M454.5 202.0L460.9 195.6L466.9 190.6L471.9 175.9L483.3 177.1L493.7 196.3" fill="none" stroke="#000" stroke-width="0.6" /><g fill="#000"><rect x="452.6" y="199.9" width="3.7" height="4.2"/><rect x="459.0" y="193.5" width="3.7" height="4.2"/><rect x="465.0" y="188.5" width="3.7" height="4.2"/><rect x="470.0" y="173.8" width="3.7" height="4.2"/><rect x="481.4" y="175.0" width="3.7" height="4.2"/><rect x="491.8" y="194.2" width="3.7" height="4.2"/></g>
<path d="M454.5 201.5L460.9 180.2L466.9 177.1L471.9 175.9" fill="none" stroke="#000" stroke-width="0.6" /><g fill="#000"><path d="M452.4 203.5L456.6 203.5L454.5 198.9Z"/><path d="M458.8 182.2L463.0 182.2L460.9 177.6Z"/><path d="M464.8 179.1L469.0 179.1L466.9 174.5Z"/><path d="M469.8 177.9L474.0 177.9L471.9 173.3Z"/></g>
</g>
<g id="pCE">
<path d="M41.5 288.0L43.1 291.3L44.0 297.0L46.5 300.5" fill="none" stroke="#000" stroke-width="0.5" /><g fill="#fff" stroke="#111" stroke-width="0.7"><path d="M40.1 289.8L42.9 289.8L41.5 285.6Z"/><path d="M41.7 293.1L44.5 293.1L43.1 288.9Z"/><path d="M42.6 298.8L45.4 298.8L44.0 294.6Z"/><path d="M45.1 302.3L47.9 302.3L46.5 298.1Z"/></g>
<path d="M41.7 279.2L42.0 284.2L43.6 290.0L41.0 295.5L40.6 300.5L44.6 300.5L47.4 300.5" fill="none" stroke="#000" stroke-width="0.5" /><g fill="#fff" stroke="#111" stroke-width="0.7"><rect x="40.5" y="277.5" width="2.5" height="3.4"/><rect x="40.8" y="282.5" width="2.5" height="3.4"/><rect x="42.4" y="288.3" width="2.5" height="3.4"/><rect x="39.8" y="293.8" width="2.5" height="3.4"/><rect x="39.4" y="298.8" width="2.5" height="3.4"/><rect x="43.4" y="298.8" width="2.5" height="3.4"/><rect x="46.2" y="298.8" width="2.5" height="3.4"/></g>
<path d="M40.5 301.0L53.8 301.9L59.5 301.9L70.6 301.9L81.5 301.6" fill="none" stroke="#000" stroke-width="0.8" /><g fill="#fff" stroke="#111" stroke-width="0.7"><ellipse cx="40.5" cy="301.0" rx="1.53" ry="1.76"/><ellipse cx="53.8" cy="301.9" rx="1.53" ry="1.76"/><ellipse cx="59.5" cy="301.9" rx="1.53" ry="1.76"/><ellipse cx="70.6" cy="301.9" rx="1.53" ry="1.76"/><ellipse cx="81.5" cy="301.6" rx="1.53" ry="1.76"/></g>
<path d="M40.8 263.1L42.4 263.5L41.0 275.6L45.9 277.5L47.1 284.2L54.2 300.8L59.5 298.3L70.7 283.4L81.5 264.3L86.8 255.2" fill="none" stroke="#000" stroke-width="1.0" /><g fill="#000"><path d="M39.2 265.1L42.4 265.1L40.8 260.4Z"/><path d="M40.8 265.5L44.0 265.5L42.4 260.8Z"/><path d="M39.4 277.6L42.6 277.6L41.0 272.9Z"/><path d="M44.3 279.5L47.5 279.5L45.9 274.8Z"/><path d="M45.5 286.2L48.7 286.2L47.1 281.5Z"/><path d="M52.6 302.8L55.8 302.8L54.2 298.1Z"/><path d="M57.9 300.3L61.1 300.3L59.5 295.6Z"/><path d="M69.1 285.4L72.3 285.4L70.7 280.7Z"/><path d="M79.9 266.3L83.1 266.3L81.5 261.6Z"/><path d="M85.2 257.2L88.4 257.2L86.8 252.5Z"/></g>
<path d="M39.7 292.0L41.7 269.2L41.7 258.5L43.8 259.3L45.7 248.9L48.1 239.6L54.5 225.4L59.5 225.4L65.2 225.4" fill="none" stroke="#000" stroke-width="1.0" /><g fill="#000"><ellipse cx="39.7" cy="292.0" rx="1.482" ry="2.29"/><ellipse cx="41.7" cy="269.2" rx="1.482" ry="2.29"/><ellipse cx="41.7" cy="258.5" rx="1.482" ry="2.29"/><ellipse cx="43.8" cy="259.3" rx="1.482" ry="2.29"/><ellipse cx="45.7" cy="248.9" rx="1.482" ry="2.29"/><ellipse cx="48.1" cy="239.6" rx="1.482" ry="2.29"/><ellipse cx="54.5" cy="225.4" rx="1.482" ry="2.29"/><ellipse cx="59.5" cy="225.4" rx="1.482" ry="2.29"/><ellipse cx="65.2" cy="225.4" rx="1.482" ry="2.29"/></g>
<path d="M66.2 228.2L67.8 223.8M68.2 228.2L69.8 223.8" stroke="#333" stroke-width="0.7" fill="none"/>
<path d="M70.6 236.0L73.5 230.0L77.3 226.5L81.5 226.1L85.8 225.7L91.5 226.1" fill="none" stroke="#444" stroke-width="0.8" /><path d="M68.9 234.3L72.3 237.7M68.9 237.7L72.3 234.3M68.9 236.0L72.3 236.0" stroke="#111" stroke-width="0.8" fill="none"/><path d="M71.8 228.3L75.2 231.7M71.8 231.7L75.2 228.3M71.8 230.0L75.2 230.0" stroke="#111" stroke-width="0.8" fill="none"/><path d="M75.6 224.8L79.0 228.2M75.6 228.2L79.0 224.8M75.6 226.5L79.0 226.5" stroke="#111" stroke-width="0.8" fill="none"/><path d="M79.8 224.4L83.2 227.8M79.8 227.8L83.2 224.4M79.8 226.1L83.2 226.1" stroke="#111" stroke-width="0.8" fill="none"/><path d="M84.1 224.0L87.5 227.4M84.1 227.4L87.5 224.0M84.1 225.7L87.5 225.7" stroke="#111" stroke-width="0.8" fill="none"/><path d="M89.8 224.4L93.2 227.8M89.8 227.8L93.2 224.4M89.8 226.1L93.2 226.1" stroke="#111" stroke-width="0.8" fill="none"/>
</g>
<g id="pCP">
<path d="M120.5 290.0L121.5 295.0L123.3 299.0" fill="none" stroke="#000" stroke-width="0.5" /><g fill="#fff" stroke="#111" stroke-width="0.7"><path d="M119.2 291.5L121.8 291.5L120.5 288.0Z"/><path d="M120.2 296.5L122.8 296.5L121.5 293.0Z"/><path d="M122.0 300.5L124.6 300.5L123.3 297.0Z"/></g>
<path d="M120.5 286.0L121.3 293.0L123.0 298.5L125.5 300.5" fill="none" stroke="#000" stroke-width="0.5" /><g fill="#fff" stroke="#111" stroke-width="0.7"><rect x="119.4" y="284.5" width="2.2" height="3.1"/><rect x="120.2" y="291.5" width="2.2" height="3.1"/><rect x="121.9" y="297.0" width="2.2" height="3.1"/><rect x="124.4" y="299.0" width="2.2" height="3.1"/></g>
<path d="M120.7 300.8L124.3 301.0L128.5 301.2L134.5 301.2L139.9 301.2L150.6 301.2L161.5 301.2" fill="none" stroke="#000" stroke-width="0.8" /><g fill="#fff" stroke="#111" stroke-width="0.7"><ellipse cx="120.7" cy="300.8" rx="1.116" ry="1.43"/><ellipse cx="124.3" cy="301.0" rx="1.116" ry="1.43"/><ellipse cx="128.5" cy="301.2" rx="1.116" ry="1.43"/><ellipse cx="134.5" cy="301.2" rx="1.116" ry="1.43"/><ellipse cx="139.9" cy="301.2" rx="1.116" ry="1.43"/><ellipse cx="150.6" cy="301.2" rx="1.116" ry="1.43"/><ellipse cx="161.5" cy="301.2" rx="1.116" ry="1.43"/></g>
<path d="M121.0 279.9L122.4 285.0L123.8 291.3L125.3 295.6L127.4 296.6L134.5 292.5L139.9 283.5L150.8 262.2L161.5 249.4L166.8 242.3" fill="none" stroke="#000" stroke-width="1.0" /><g fill="#000"><path d="M119.4 281.9L122.6 281.9L121.0 277.2Z"/><path d="M120.8 287.0L124.0 287.0L122.4 282.3Z"/><path d="M122.2 293.3L125.4 293.3L123.8 288.6Z"/><path d="M123.7 297.6L126.9 297.6L125.3 292.9Z"/><path d="M125.8 298.6L129.0 298.6L127.4 293.9Z"/><path d="M132.9 294.5L136.1 294.5L134.5 289.8Z"/><path d="M138.3 285.5L141.5 285.5L139.9 280.8Z"/><path d="M149.2 264.2L152.4 264.2L150.8 259.5Z"/><path d="M159.9 251.4L163.1 251.4L161.5 246.7Z"/><path d="M165.2 244.3L168.4 244.3L166.8 239.6Z"/></g>
<path d="M120.5 281.0L121.4 260.7L122.0 266.4L123.9 240.3L126.8 228.4L128.5 235.6L134.7 227.2L139.9 225.5L145.2 239.1" fill="none" stroke="#000" stroke-width="1.0" /><g fill="#000"><ellipse cx="120.5" cy="281.0" rx="1.482" ry="2.29"/><ellipse cx="121.4" cy="260.7" rx="1.482" ry="2.29"/><ellipse cx="122.0" cy="266.4" rx="1.482" ry="2.29"/><ellipse cx="123.9" cy="240.3" rx="1.482" ry="2.29"/><ellipse cx="126.8" cy="228.4" rx="1.482" ry="2.29"/><ellipse cx="128.5" cy="235.6" rx="1.482" ry="2.29"/><ellipse cx="134.7" cy="227.2" rx="1.482" ry="2.29"/><ellipse cx="139.9" cy="225.5" rx="1.482" ry="2.29"/><ellipse cx="145.2" cy="239.1" rx="1.482" ry="2.29"/></g>
<path d="M144.4 244.7L146.0 240.3M146.4 244.7L148.0 240.3" stroke="#333" stroke-width="0.7" fill="none"/>
<path d="M146.5 240.5L150.9 229.9" fill="none" stroke="#555" stroke-width="0.7" />
<path d="M150.9 229.9L158.2 227.5L161.6 246.5L161.8 253.0L167.5 240.5L172.7 233.4" fill="none" stroke="#555" stroke-width="0.7" /><path d="M149.2 228.2L152.6 231.6M149.2 231.6L152.6 228.2M149.2 229.9L152.6 229.9" stroke="#111" stroke-width="0.8" fill="none"/><path d="M156.5 225.8L159.9 229.2M156.5 229.2L159.9 225.8M156.5 227.5L159.9 227.5" stroke="#111" stroke-width="0.8" fill="none"/><path d="M159.9 244.8L163.3 248.2M159.9 248.2L163.3 244.8M159.9 246.5L163.3 246.5" stroke="#111" stroke-width="0.8" fill="none"/><path d="M160.1 251.3L163.5 254.7M160.1 254.7L163.5 251.3M160.1 253.0L163.5 253.0" stroke="#111" stroke-width="0.8" fill="none"/><path d="M165.8 238.8L169.2 242.2M165.8 242.2L169.2 238.8M165.8 240.5L169.2 240.5" stroke="#111" stroke-width="0.8" fill="none"/><path d="M171.0 231.7L174.4 235.1M171.0 235.1L174.4 231.7M171.0 233.4L174.4 233.4" stroke="#111" stroke-width="0.8" fill="none"/>
</g>
<g id="pCG">
<path d="M201.7 287.3L202.7 292.0L205.0 297.0L214.6 299.6" fill="none" stroke="#555" stroke-width="0.6" /><g fill="#fff" stroke="#505050" stroke-width="0.55"><rect x="200.6" y="285.9" width="2.3" height="2.9"/><rect x="201.6" y="290.6" width="2.3" height="2.9"/><rect x="203.9" y="295.6" width="2.3" height="2.9"/><rect x="213.5" y="298.2" width="2.3" height="2.9"/></g>
<path d="M206.8 299.8L209.2 299.8L214.6 299.8L231.4 299.8L241.9 299.8" fill="none" stroke="#000" stroke-width="0.8" /><g fill="#fff" stroke="#111" stroke-width="0.7"><ellipse cx="206.8" cy="299.8" rx="1.332" ry="1.64"/><ellipse cx="209.2" cy="299.8" rx="1.332" ry="1.64"/><ellipse cx="214.6" cy="299.8" rx="1.332" ry="1.64"/><ellipse cx="231.4" cy="299.8" rx="1.332" ry="1.64"/><ellipse cx="241.9" cy="299.8" rx="1.332" ry="1.64"/></g>
<path d="M202.3 239.5L202.3 259.6" fill="none" stroke="#000" stroke-width="0.8" /><g fill="#000"><path d="M200.7 241.1L203.9 241.1L202.3 237.4Z"/><path d="M200.7 261.2L203.9 261.2L202.3 257.5Z"/></g>
<path d="M208.0 298.8L214.6 298.8L231.4 235.0L241.9 229.5L247.4 236.7" fill="none" stroke="#000" stroke-width="0.8" /><g fill="#000"><path d="M206.4 300.4L209.6 300.4L208.0 296.7Z"/><path d="M213.0 300.4L216.2 300.4L214.6 296.7Z"/><path d="M229.8 236.6L233.0 236.6L231.4 232.9Z"/><path d="M240.3 231.1L243.5 231.1L241.9 227.4Z"/><path d="M245.8 238.3L249.0 238.3L247.4 234.6Z"/></g>
<path d="M202.3 259.6L206.8 225.2L208.4 225.2L214.6 225.2L225.9 225.2" fill="none" stroke="#000" stroke-width="1.0" /><g fill="#000"><ellipse cx="202.3" cy="259.6" rx="1.443" ry="1.80"/><ellipse cx="206.8" cy="225.2" rx="1.443" ry="1.80"/><ellipse cx="208.4" cy="225.2" rx="1.443" ry="1.80"/><ellipse cx="214.6" cy="225.2" rx="1.443" ry="1.80"/><ellipse cx="225.9" cy="225.2" rx="1.443" ry="1.80"/></g>
<path d="M202.3 259.6L202.7 274.8L206.5 284.4L207.8 299.0" fill="none" stroke="#000" stroke-width="0.9" /><g fill="#000"><ellipse cx="202.3" cy="259.6" rx="1.443" ry="1.80"/><ellipse cx="202.7" cy="274.8" rx="1.443" ry="1.80"/><ellipse cx="206.5" cy="284.4" rx="1.443" ry="1.80"/><ellipse cx="207.8" cy="299.0" rx="1.443" ry="1.80"/></g>
<path d="M202.7 274.8" fill="none" stroke="#555" stroke-width="0.6" /><g fill="#fff" stroke="#505050" stroke-width="0.55"><path d="M201.3 276.2L204.1 276.2L202.7 272.9Z"/></g>
<path d="M227.2 227.2L228.8 222.8M229.2 227.2L230.8 222.8" stroke="#333" stroke-width="0.7" fill="none"/>
<path d="M233.0 225.2L237.8 225.2L242.6 225.2L247.4 225.2L252.9 225.2" fill="none" stroke="#111" stroke-width="0.9" /><path d="M231.3 223.5L234.7 226.9M231.3 226.9L234.7 223.5M231.3 225.2L234.7 225.2" stroke="#111" stroke-width="0.8" fill="none"/><path d="M236.1 223.5L239.5 226.9M236.1 226.9L239.5 223.5M236.1 225.2L239.5 225.2" stroke="#111" stroke-width="0.8" fill="none"/><path d="M240.9 223.5L244.3 226.9M240.9 226.9L244.3 223.5M240.9 225.2L244.3 225.2" stroke="#111" stroke-width="0.8" fill="none"/><path d="M245.7 223.5L249.1 226.9M245.7 226.9L249.1 223.5M245.7 225.2L249.1 225.2" stroke="#111" stroke-width="0.8" fill="none"/><path d="M251.2 223.5L254.6 226.9M251.2 226.9L254.6 223.5M251.2 225.2L254.6 225.2" stroke="#111" stroke-width="0.8" fill="none"/>
</g>
<g id="pCM">
<path d="M288.0 284.5L290.4 296.5L299.2 299.6L315.9 294.8L326.9 298.1" fill="none" stroke="#555" stroke-width="0.6" /><g fill="#fff" stroke="#505050" stroke-width="0.55"><path d="M286.6 285.9L289.4 285.9L288.0 282.6Z"/><path d="M289.0 297.9L291.8 297.9L290.4 294.6Z"/><path d="M297.8 301.0L300.6 301.0L299.2 297.8Z"/><path d="M314.5 296.2L317.3 296.2L315.9 292.9Z"/><path d="M325.5 299.5L328.3 299.5L326.9 296.2Z"/></g>
<path d="M287.5 298.0L292.0 298.1L299.2 299.6" fill="none" stroke="#555" stroke-width="0.6" /><g fill="#fff" stroke="#505050" stroke-width="0.55"><rect x="286.4" y="296.6" width="2.3" height="2.9"/><rect x="290.9" y="296.7" width="2.3" height="2.9"/><rect x="298.1" y="298.2" width="2.3" height="2.9"/></g>
<path d="M288.0 297.7L292.0 298.1L299.2 299.6L315.9 298.8L326.9 298.1" fill="none" stroke="#000" stroke-width="0.8" /><g fill="#fff" stroke="#111" stroke-width="0.7"><ellipse cx="288.0" cy="297.7" rx="1.332" ry="1.64"/><ellipse cx="292.0" cy="298.1" rx="1.332" ry="1.64"/><ellipse cx="299.2" cy="299.6" rx="1.332" ry="1.64"/><ellipse cx="315.9" cy="298.8" rx="1.332" ry="1.64"/><ellipse cx="326.9" cy="298.1" rx="1.332" ry="1.64"/></g>
<path d="M286.8 242.2L288.5 280.0L291.1 297.7L299.2 299.6L315.5 240.8L326.9 227.9L332.2 233.1" fill="none" stroke="#000" stroke-width="0.8" /><g fill="#000"><path d="M285.2 243.8L288.4 243.8L286.8 240.1Z"/><path d="M286.9 281.6L290.1 281.6L288.5 277.9Z"/><path d="M289.5 299.3L292.7 299.3L291.1 295.6Z"/><path d="M297.6 301.2L300.8 301.2L299.2 297.5Z"/><path d="M313.9 242.4L317.1 242.4L315.5 238.7Z"/><path d="M325.3 229.5L328.5 229.5L326.9 225.8Z"/><path d="M330.6 234.7L333.8 234.7L332.2 231.0Z"/></g>
<path d="M286.8 297.5L286.8 267.8L291.1 225.2L292.8 224.8L299.2 224.8L310.7 224.8" fill="none" stroke="#000" stroke-width="1.0" /><g fill="#000"><ellipse cx="286.8" cy="297.5" rx="1.443" ry="1.80"/><ellipse cx="286.8" cy="267.8" rx="1.443" ry="1.80"/><ellipse cx="291.1" cy="225.2" rx="1.443" ry="1.80"/><ellipse cx="292.8" cy="224.8" rx="1.443" ry="1.80"/><ellipse cx="299.2" cy="224.8" rx="1.443" ry="1.80"/><ellipse cx="310.7" cy="224.8" rx="1.443" ry="1.80"/></g>
<path d="M312.0 226.5L313.6 222.1M314.0 226.5L315.6 222.1" stroke="#333" stroke-width="0.7" fill="none"/>
<path d="M317.4 225.2L322.6 225.2L327.4 225.2L332.7 225.2L338.2 225.2" fill="none" stroke="#111" stroke-width="0.9" /><path d="M315.7 223.5L319.1 226.9M315.7 226.9L319.1 223.5M315.7 225.2L319.1 225.2" stroke="#111" stroke-width="0.8" fill="none"/><path d="M320.9 223.5L324.3 226.9M320.9 226.9L324.3 223.5M320.9 225.2L324.3 225.2" stroke="#111" stroke-width="0.8" fill="none"/><path d="M325.7 223.5L329.1 226.9M325.7 226.9L329.1 223.5M325.7 225.2L329.1 225.2" stroke="#111" stroke-width="0.8" fill="none"/><path d="M331.0 223.5L334.4 226.9M331.0 226.9L334.4 223.5M331.0 225.2L334.4 225.2" stroke="#111" stroke-width="0.8" fill="none"/><path d="M336.5 223.5L339.9 226.9M336.5 226.9L339.9 223.5M336.5 225.2L339.9 225.2" stroke="#111" stroke-width="0.8" fill="none"/>
</g>
<g id="pCB">
<path d="M372.0 293.0L375.6 295.3L378.0 298.0" fill="none" stroke="#555" stroke-width="0.6" /><g fill="#fff" stroke="#505050" stroke-width="0.55"><path d="M370.6 294.4L373.4 294.4L372.0 291.1Z"/><path d="M374.2 296.7L377.0 296.7L375.6 293.4Z"/><path d="M376.6 299.4L379.4 299.4L378.0 296.1Z"/></g>
<path d="M372.6 291.0L376.0 296.6L378.5 298.8L383.7 299.9L389.2 299.9L400.3 300.2L411.4 300.2" fill="none" stroke="#000" stroke-width="0.8" /><g fill="#fff" stroke="#111" stroke-width="0.7"><ellipse cx="372.6" cy="291.0" rx="1.332" ry="1.64"/><ellipse cx="376.0" cy="296.6" rx="1.332" ry="1.64"/><ellipse cx="378.5" cy="298.8" rx="1.332" ry="1.64"/><ellipse cx="383.7" cy="299.9" rx="1.332" ry="1.64"/><ellipse cx="389.2" cy="299.9" rx="1.332" ry="1.64"/><ellipse cx="400.3" cy="300.2" rx="1.332" ry="1.64"/><ellipse cx="411.4" cy="300.2" rx="1.332" ry="1.64"/></g>
<path d="M372.6 282.6L376.0 257.8L377.5 277.8L379.2 293.5L383.7 294.4L389.2 294.8L400.3 294.8L411.4 295.0" fill="none" stroke="#000" stroke-width="0.8" /><g fill="#fff" stroke="#111" stroke-width="0.7"><rect x="371.5" y="281.2" width="2.3" height="2.9"/><rect x="374.9" y="256.4" width="2.3" height="2.9"/><rect x="376.4" y="276.4" width="2.3" height="2.9"/><rect x="378.1" y="292.1" width="2.3" height="2.9"/><rect x="382.6" y="293.0" width="2.3" height="2.9"/><rect x="388.1" y="293.4" width="2.3" height="2.9"/><rect x="399.2" y="293.4" width="2.3" height="2.9"/><rect x="410.3" y="293.6" width="2.3" height="2.9"/></g>
<path d="M371.5 236.8L376.0 251.2L377.5 260.0L384.2 274.5L389.2 277.3L400.3 284.0L411.4 282.6L416.9 290.0" fill="none" stroke="#000" stroke-width="0.9" /><g fill="#000"><path d="M369.9 238.4L373.1 238.4L371.5 234.7Z"/><path d="M374.4 252.8L377.6 252.8L376.0 249.1Z"/><path d="M375.9 261.6L379.1 261.6L377.5 257.9Z"/><path d="M382.6 276.1L385.8 276.1L384.2 272.4Z"/><path d="M387.6 278.9L390.8 278.9L389.2 275.2Z"/><path d="M398.7 285.6L401.9 285.6L400.3 281.9Z"/><path d="M409.8 284.2L413.0 284.2L411.4 280.5Z"/><path d="M415.3 291.6L418.5 291.6L416.9 287.9Z"/></g>
<path d="M371.5 271.1L371.5 246.3L377.1 241.2L384.2 231.7L389.2 228.6L394.8 226.4" fill="none" stroke="#000" stroke-width="1.0" /><g fill="#000"><ellipse cx="371.5" cy="271.1" rx="1.443" ry="1.80"/><ellipse cx="371.5" cy="246.3" rx="1.443" ry="1.80"/><ellipse cx="377.1" cy="241.2" rx="1.443" ry="1.80"/><ellipse cx="384.2" cy="231.7" rx="1.443" ry="1.80"/><ellipse cx="389.2" cy="228.6" rx="1.443" ry="1.80"/><ellipse cx="394.8" cy="226.4" rx="1.443" ry="1.80"/></g>
<path d="M395.0 231.5L396.6 227.1M397.0 231.5L398.6 227.1" stroke="#333" stroke-width="0.7" fill="none"/>
<path d="M399.6 226.9L407.0 228.6L411.4 225.7L416.5 227.3L422.5 226.4" fill="none" stroke="#111" stroke-width="0.9" /><path d="M397.9 225.2L401.3 228.6M397.9 228.6L401.3 225.2M397.9 226.9L401.3 226.9" stroke="#111" stroke-width="0.8" fill="none"/><path d="M405.3 226.9L408.7 230.3M405.3 230.3L408.7 226.9M405.3 228.6L408.7 228.6" stroke="#111" stroke-width="0.8" fill="none"/><path d="M409.7 224.0L413.1 227.4M409.7 227.4L413.1 224.0M409.7 225.7L413.1 225.7" stroke="#111" stroke-width="0.8" fill="none"/><path d="M414.8 225.6L418.2 229.0M414.8 229.0L418.2 225.6M414.8 227.3L418.2 227.3" stroke="#111" stroke-width="0.8" fill="none"/><path d="M420.8 224.7L424.2 228.1M420.8 228.1L424.2 224.7M420.8 226.4L424.2 226.4" stroke="#111" stroke-width="0.8" fill="none"/>
</g>
<g id="pCT">
<path d="M452.4 297.0L456.0 295.0L460.0 297.5L465.0 298.5" fill="none" stroke="#555" stroke-width="0.6" /><g fill="#fff" stroke="#505050" stroke-width="0.55"><path d="M451.2 298.3L453.6 298.3L452.4 295.3Z"/><path d="M454.8 296.3L457.2 296.3L456.0 293.3Z"/><path d="M458.8 298.8L461.2 298.8L460.0 295.8Z"/><path d="M463.8 299.8L466.2 299.8L465.0 296.8Z"/></g>
<path d="M456.5 288.0L458.4 290.4L465.0 283.8" fill="none" stroke="#555" stroke-width="0.6" /><g fill="#fff" stroke="#505050" stroke-width="0.55"><rect x="455.5" y="286.7" width="2.0" height="2.6"/><rect x="457.4" y="289.1" width="2.0" height="2.6"/><rect x="464.0" y="282.5" width="2.0" height="2.6"/></g>
<path d="M452.4 299.2L458.3 298.6L465.0 299.2L470.3 299.8L481.2 300.1L492.3 300.4" fill="none" stroke="#000" stroke-width="0.8" /><g fill="#fff" stroke="#111" stroke-width="0.7"><ellipse cx="452.4" cy="299.2" rx="1.1880000000000002" ry="1.48"/><ellipse cx="458.3" cy="298.6" rx="1.1880000000000002" ry="1.48"/><ellipse cx="465.0" cy="299.2" rx="1.1880000000000002" ry="1.48"/><ellipse cx="470.3" cy="299.8" rx="1.1880000000000002" ry="1.48"/><ellipse cx="481.2" cy="300.1" rx="1.1880000000000002" ry="1.48"/><ellipse cx="492.3" cy="300.4" rx="1.1880000000000002" ry="1.48"/></g>
<path d="M452.1 297.0L457.2 277.0L458.4 283.8L465.0 292.1L470.5 296.2L481.2 292.1L492.3 280.5L497.8 292.9" fill="none" stroke="#000" stroke-width="0.9" /><g fill="#000"><path d="M450.7 298.4L453.5 298.4L452.1 295.1Z"/><path d="M455.8 278.4L458.6 278.4L457.2 275.1Z"/><path d="M457.0 285.2L459.8 285.2L458.4 281.9Z"/><path d="M463.6 293.5L466.4 293.5L465.0 290.2Z"/><path d="M469.1 297.6L471.9 297.6L470.5 294.3Z"/><path d="M479.8 293.5L482.6 293.5L481.2 290.2Z"/><path d="M490.9 281.9L493.7 281.9L492.3 278.6Z"/><path d="M496.4 294.3L499.2 294.3L497.8 291.0Z"/></g>
<path d="M452.1 293.7L457.2 274.7L464.7 246.3L470.5 252.9L476.4 268.3" fill="none" stroke="#000" stroke-width="1.0" /><g fill="#000"><ellipse cx="452.1" cy="293.7" rx="1.287" ry="1.62"/><ellipse cx="457.2" cy="274.7" rx="1.287" ry="1.62"/><ellipse cx="464.7" cy="246.3" rx="1.287" ry="1.62"/><ellipse cx="470.5" cy="252.9" rx="1.287" ry="1.62"/></g>
<path d="M475.8 268.8L477.4 264.4M477.8 268.8L479.4 264.4" stroke="#333" stroke-width="0.7" fill="none"/>
<path d="M481.2 288.0L487.3 261.5L492.0 254.1L497.2 256.5L503.0 248.3" fill="none" stroke="#111" stroke-width="0.9" /><path d="M479.5 286.3L482.9 289.7M479.5 289.7L482.9 286.3M479.5 288.0L482.9 288.0" stroke="#111" stroke-width="0.8" fill="none"/><path d="M485.6 259.8L489.0 263.2M485.6 263.2L489.0 259.8M485.6 261.5L489.0 261.5" stroke="#111" stroke-width="0.8" fill="none"/><path d="M490.3 252.4L493.7 255.8M490.3 255.8L493.7 252.4M490.3 254.1L493.7 254.1" stroke="#111" stroke-width="0.8" fill="none"/><path d="M495.5 254.8L498.9 258.2M495.5 258.2L498.9 254.8M495.5 256.5L498.9 256.5" stroke="#111" stroke-width="0.8" fill="none"/><path d="M501.3 246.6L504.7 250.0M501.3 250.0L504.7 246.6M501.3 248.3L504.7 248.3" stroke="#111" stroke-width="0.8" fill="none"/>
</g>
<text x="104.9" y="97.9" font-size="11" text-anchor="end">E</text>
<text x="187.0" y="97.4" font-size="11" text-anchor="end">P</text>
<text x="267.0" y="97.8" font-size="11" text-anchor="end">G</text>
<text x="351.6" y="97.9" font-size="11" text-anchor="end">M</text>
<text x="436.0" y="97.9" font-size="11" text-anchor="end">B</text>
<text x="516.3" y="97.6" font-size="11" text-anchor="end">T</text>
<text x="103.4" y="201.9" font-size="11" text-anchor="end">E</text>
<text x="187.0" y="201.6" font-size="11" text-anchor="end">P</text>
<text x="267.0" y="201.6" font-size="11" text-anchor="end">G</text>
<text x="351.4" y="201.8" font-size="11" text-anchor="end">M</text>
<text x="436.5" y="201.4" font-size="11" text-anchor="end">B</text>
<text x="516.3" y="201.7" font-size="11" text-anchor="end">T</text>
<text x="102.0" y="298.7" font-size="11" text-anchor="end">E</text>
<text x="186.1" y="299.3" font-size="11" text-anchor="end">P</text>
<text x="267.0" y="298.8" font-size="11" text-anchor="end">G</text>
<text x="351.2" y="298.85" font-size="11" text-anchor="end">M</text>
<text x="436.0" y="298.8" font-size="11" text-anchor="end">B</text>
<text x="516.3" y="298.7" font-size="11" text-anchor="end" font-weight="bold">T</text>
<text x="0.9" y="17.3" font-size="17.8" font-weight="bold">A</text>
<text x="1.1" y="121.8" font-size="17.6" font-weight="bold">B</text>
<text x="0.6" y="219.2" font-size="17.6" font-weight="bold">C</text>
<text x="73.2" y="358.9" font-size="19.3" font-weight="bold">D</text>
<text x="37.4" y="18.4" font-size="11.7" text-anchor="end">100</text>
<text x="37.4" y="60.6" font-size="11.7" text-anchor="end">50</text>
<text x="37.4" y="104.3" font-size="11.7" text-anchor="end">0</text>
<text transform="translate(11.3,60.9) rotate(-90)" font-size="11.6" text-anchor="middle">% GFP<tspan dy="-3.8" font-size="7.5">+</tspan><tspan dy="3.8"> Cells</tspan></text>
<text x="37.4" y="122.8" font-size="11.7" text-anchor="end">100</text>
<text x="37.4" y="165.4" font-size="11.7" text-anchor="end">50</text>
<text x="37.4" y="208.4" font-size="11.7" text-anchor="end">0</text>
<text transform="translate(11.3,161.6) rotate(-90)" font-size="11.6" text-anchor="middle">% GFP<tspan dy="-3.8" font-size="7.5">+</tspan><tspan dy="3.8"> Cells</tspan></text>
<text x="37.4" y="229.0" font-size="11.7" text-anchor="end">100</text>
<text x="37.4" y="268.8" font-size="11.7" text-anchor="end">50</text>
<text x="37.4" y="309.7" font-size="11.7" text-anchor="end">0</text>
<text transform="translate(11.3,262.0) rotate(-90)" font-size="11.6" text-anchor="middle">% GFP<tspan dy="-3.8" font-size="7.5">+</tspan><tspan dy="3.8"> Cells</tspan></text>
<text x="37.9" y="318.3" font-size="10.3" text-anchor="middle">0</text>
<text x="65.9" y="318.3" font-size="10.3" text-anchor="middle">200</text>
<text x="97.9" y="318.3" font-size="10.3" text-anchor="middle">400</text>
<text x="118.3" y="318.3" font-size="10.3" text-anchor="middle">0</text>
<text x="146" y="318.3" font-size="10.3" text-anchor="middle">200</text>
<text x="179" y="318.3" font-size="10.3" text-anchor="middle">400</text>
<text x="199.1" y="318.3" font-size="10.3" text-anchor="middle">0</text>
<text x="227.2" y="318.3" font-size="10.3" text-anchor="middle">200</text>
<text x="259.9" y="318.3" font-size="10.3" text-anchor="middle">400</text>
<text x="282.3" y="318.3" font-size="10.3" text-anchor="middle">0</text>
<text x="310.4" y="318.3" font-size="10.3" text-anchor="middle">200</text>
<text x="342.4" y="318.3" font-size="10.3" text-anchor="middle">400</text>
<text x="368.1" y="318.3" font-size="10.3" text-anchor="middle">0</text>
<text x="396.4" y="318.3" font-size="10.3" text-anchor="middle">200</text>
<text x="428.1" y="318.3" font-size="10.3" text-anchor="middle">400</text>
<text x="447.5" y="318.3" font-size="10.3" text-anchor="middle">0</text>
<text x="476.5" y="318.3" font-size="10.3" text-anchor="middle">200</text>
<text x="508.1" y="318.3" font-size="10.3" text-anchor="middle">400</text>
<text x="283.3" y="337.2" font-size="17.6" text-anchor="middle">Days After Transplantation</text>
<rect x="135.8" y="368.5" width="106.1" height="23.2" fill="#1e1e1e"/><rect x="135.8" y="368.5" width="106.1" height="1.6" fill="#4a4a4a"/><rect x="139.2" y="378.3" width="21.6" height="2.8" rx="1.4" fill="#e8e8e8" filter="url(#bl)"/><rect x="164.5" y="376.20" width="22.6" height="8.2" rx="3.9" fill="#9a9a9a" filter="url(#bl)"/><rect x="165.3" y="377.60" width="21.0" height="5.4" rx="2.7" fill="#fff" filter="url(#bl2)"/><rect x="189.89999999999998" y="376.70" width="22.6" height="7.6" rx="3.6" fill="#9a9a9a" filter="url(#bl)"/><rect x="190.7" y="378.10" width="21.0" height="4.8" rx="2.4" fill="#fff" filter="url(#bl2)"/><rect x="215.7" y="377.00" width="23.6" height="7.8" rx="3.7" fill="#9a9a9a" filter="url(#bl)"/><rect x="216.5" y="378.40" width="22.0" height="5.0" rx="2.5" fill="#fff" filter="url(#bl2)"/><rect x="313.5" y="368.2" width="106" height="23.8" fill="#1e1e1e"/><rect x="313.5" y="368.2" width="106" height="1.6" fill="#4a4a4a"/><rect x="342.09999999999997" y="378.00" width="23.2" height="8.0" rx="3.8" fill="#9a9a9a" filter="url(#bl)"/><rect x="342.9" y="379.40" width="21.6" height="5.2" rx="2.6" fill="#fff" filter="url(#bl2)"/><rect x="368.09999999999997" y="378.60" width="23.2" height="7.2" rx="3.4" fill="#9a9a9a" filter="url(#bl)"/><rect x="368.9" y="380.00" width="21.6" height="4.4" rx="2.2" fill="#fff" filter="url(#bl2)"/><rect x="394.5" y="378.60" width="23.4" height="7.2" rx="3.4" fill="#9a9a9a" filter="url(#bl)"/><rect x="395.3" y="380.00" width="21.8" height="4.4" rx="2.2" fill="#fff" filter="url(#bl2)"/><text x="74" y="379.5" font-size="7.3">Chromosome 4</text><text x="74" y="388.5" font-size="7.3">132,070,241</text><text x="254.4" y="379.5" font-size="7.3">Chromosome 16</text><text x="254.4" y="388.5" font-size="7.3">93,704,265</text><text x="148.3" y="359.4" font-size="11.6" text-anchor="middle">G</text><text x="173.8" y="359.4" font-size="11.6" text-anchor="middle">M</text><text x="200.8" y="359.4" font-size="11.6" text-anchor="middle">B</text><text x="228.5" y="359.4" font-size="11.6" text-anchor="middle">T</text><text x="327" y="359.4" font-size="11.6" text-anchor="middle">G</text><text x="353.9" y="359.4" font-size="11.6" text-anchor="middle">M</text><text x="378.9" y="359.4" font-size="11.6" text-anchor="middle">B</text><text x="407.2" y="359.4" font-size="11.6" text-anchor="middle">T</text>
</svg></body></html>
